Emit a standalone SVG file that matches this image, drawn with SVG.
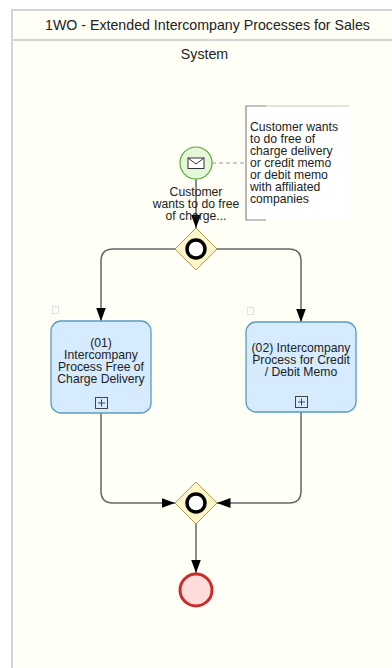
<svg xmlns="http://www.w3.org/2000/svg" width="392" height="668" viewBox="0 0 392 668">
<style>
text{font-family:"Liberation Sans",Arial,sans-serif;font-size:12.2px;fill:#222;text-anchor:middle}
.left{text-anchor:start}
.head{font-size:14.2px}
.conn{fill:none;stroke:#666;stroke-width:1.500}
.task{fill:#d6ebfd;stroke:#5a9cc0;stroke-width:1.300}
.gw{fill:#fdf6c8;stroke:#b19a55;stroke-width:1}
.ring{fill:#fff;stroke:#000;stroke-width:3.500}
.mark{fill:none;stroke:#d5e3ea;stroke-width:1}
.plus{fill:none;stroke:#444;stroke-width:1}
</style>
<defs><marker id="arrow" markerUnits="userSpaceOnUse" markerWidth="14" markerHeight="10" refX="13.500" refY="5" orient="auto"><path d="M0 0L13.500 5L0 10Z" fill="#000"/></marker></defs>
<rect width="392" height="668" fill="#fff"/>
<g id="pool">
<rect x="12" y="10" width="386" height="666" fill="#fffff6" stroke="#d4d4d4" stroke-width="2"/>
<path d="M12 40H392" stroke="#d4d4d4" stroke-width="2" fill="none"/>
<text class="head" x="207.500" y="30">1WO - Extended Intercompany Processes for Sales</text>
<text class="head" x="204.500" y="59">System</text>
</g>
<g id="annotation">
<rect x="246" y="106" width="103" height="114" fill="#fff"/>
<path d="M266 106H246V220H266" fill="none" stroke="#888" stroke-width="1.200"/>
<path d="M266 106H349" fill="none" stroke="#c6c6ba" stroke-width="1.200"/>
<text class="left" x="250" y="131">Customer wants</text>
<text class="left" x="250" y="143">to do free of</text>
<text class="left" x="250" y="155">charge delivery</text>
<text class="left" x="250" y="167">or credit memo</text>
<text class="left" x="250" y="179">or debit memo</text>
<text class="left" x="250" y="191">with affiliated</text>
<text class="left" x="250" y="203">companies</text>
</g>
<g id="connectors">
<path d="M212 163H246" fill="none" stroke="#999" stroke-width="1" stroke-dasharray="4 3"/>
<path class="conn" d="M196 179V228" marker-end="url(#arrow)"/>
<path class="conn" d="M175 249H113Q101 249 101 261V321" marker-end="url(#arrow)"/>
<path class="conn" d="M217 249H289Q301 249 301 261V322" marker-end="url(#arrow)"/>
<path class="conn" d="M101 413V491Q101 503 113 503H175" marker-end="url(#arrow)"/>
<path class="conn" d="M301 412V491Q301 503 289 503H217" marker-end="url(#arrow)"/>
<path class="conn" d="M196 524V573" marker-end="url(#arrow)"/>
</g>
<g id="start">
<circle cx="196" cy="163" r="16" fill="#e4f7d8" stroke="#5aa83c" stroke-width="1.200"/>
<rect x="188" y="158" width="16" height="10.500" fill="#fff" stroke="#333" stroke-width="1"/>
<path d="M188 158L196 164L204 158" fill="none" stroke="#333" stroke-width="1"/>
<text x="196" y="196">Customer</text>
<text x="196" y="208">wants to do free</text>
<text x="196" y="220">of charge...</text>
</g>
<g id="gateway1">
<path class="gw" d="M196 228L217 249L196 270L175 249Z"/>
<circle class="ring" cx="196" cy="249" r="9"/>
</g>
<g id="task1">
<rect class="mark" x="52.500" y="306.500" width="6" height="7"/>
<rect class="task" x="51" y="321" width="100" height="92" rx="10"/>
<text x="101" y="347">(01)</text>
<text x="101" y="359">Intercompany</text>
<text x="101" y="371">Process Free of</text>
<text x="101" y="383">Charge Delivery</text>
<rect class="plus" x="95.500" y="397.500" width="12" height="11"/>
<path class="plus" d="M98 403H105M101.500 399.500V406.500"/>
</g>
<g id="task2">
<rect class="mark" x="247.500" y="307.500" width="6" height="7"/>
<rect class="task" x="246" y="322" width="110" height="90" rx="10"/>
<text x="301" y="352">(02) Intercompany</text>
<text x="301" y="364">Process for Credit</text>
<text x="301" y="376">/ Debit Memo</text>
<rect class="plus" x="295.500" y="396.500" width="12" height="11"/>
<path class="plus" d="M298 402H305M301.500 398.500V405.500"/>
</g>
<g id="gateway2">
<path class="gw" d="M196 482L217 503L196 524L175 503Z"/>
<circle class="ring" cx="196" cy="503" r="9"/>
</g>
<g id="end">
<circle cx="196" cy="590" r="16" fill="#fddcdc" stroke="#cf2a2a" stroke-width="3"/>
</g>
</svg>
